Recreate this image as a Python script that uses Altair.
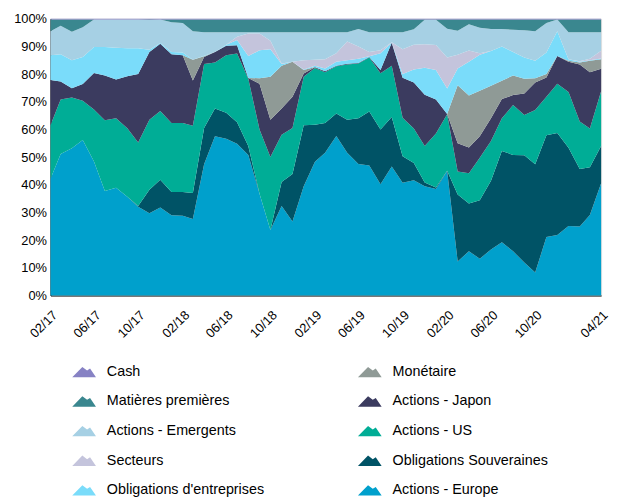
import altair as alt
import pandas as pd

# Monthly observation dates (02/2017 -> 04/2021)
months = pd.date_range("2017-02-01", "2021-04-01", freq="MS")

# Tick months shown on the x axis (year, month)
tick_months = [(2017, 2), (2017, 6), (2017, 10), (2018, 2), (2018, 6), (2018, 10),
               (2019, 2), (2019, 6), (2019, 10), (2020, 2), (2020, 6), (2020, 10),
               (2021, 4)]

# Allocation (%) per asset class
europe = [42.2, 51.1, 53.2, 56.2, 48.4, 37.8, 38.9, 35.7, 32.1, 29.7,
          31.8, 29.0, 28.8, 27.6, 47.4, 57.5, 56.6, 54.8, 50.8, 36.8,
          23.7, 32.3, 26.7, 39.5, 48.3, 51.6, 57.6, 51.6, 47.5, 47.0,
          40.2, 46.6, 40.7, 41.6, 39.5, 38.5, 45.0, 12.3, 16.0, 13.3,
          16.6, 19.2, 16.0, 11.9, 8.3, 21.1, 21.9, 25.1, 24.9, 29.1, 40.6]
souv = [0, 0, 0, 0, 0, 0, 0, 0, 0.2, 8.5,
        10.0, 8.4, 8.6, 9.4, 13.1, 10.1, 9.4, 7.8, 3.2, 0,
        0, 8.7, 17.2, 22.0, 13.4, 10.7, 8.2, 11.9, 16.5, 19.5,
        19.8, 17.9, 9.6, 6.3, 1.3, 0.5, 0.1, 24.2, 17.2, 21.1,
        24.9, 33.0, 34.8, 38.8, 39.1, 36.8, 36.8, 28.3, 20.8, 17.2, 13.4]
us = [19.3, 19.7, 18.3, 14.2, 18.8, 25.5, 25.1, 24.7, 23.0, 25.3,
      24.9, 24.9, 24.9, 24.3, 23.1, 16.6, 20.8, 24.8, 24.3, 23.2,
      26.3, 17.1, 16.6, 17.5, 20.5, 18.4, 17.0, 20.0, 19.8, 19.5,
      20.3, 18.5, 13.9, 12.4, 13.2, 19.5, 20.4, 8.3, 11.0, 15.4,
      14.3, 11.8, 18.0, 14.5, 19.6, 13.9, 17.8, 20.1, 17.2, 14.0, 19.8]
japon = [16.4, 6.5, 3.4, 6.0, 13.2, 16.2, 14.0, 18.8, 24.7, 24.5,
         24.3, 24.9, 24.5, 16.4, 2.6, 3.8, 3.4, 3.0, 0.3, 16.5,
         13.5, 9.5, 11.3, 1.2, 0.3, 0.3, 0.2, 0.2, 0.2, 0.2,
         1.2, 8.3, 14.5, 16.7, 18.5, 12.3, 0.1, 10.2, 9.3, 7.7,
         8.2, 7.0, 3.6, 7.8, 10.0, 7.0, 10.0, 11.0, 20.6, 20.4, 8.1]
monetaire = [0, 0, 0, 0, 0, 0, 0, 0, 0, 0,
             0, 0, 0, 7.5, 0.2, 0, 0, 0, 0, 2.0,
             15.5, 15.4, 12.7, 1.3, 0.1, 0, 0, 0, 0, 0,
             0, 0, 0, 0, 0, 0, 0, 21.0, 18.8, 16.5,
             11.8, 6.6, 7.1, 5.3, 1.5, 1.2, 0, 0.3, 0.7, 4.1, 3.5]
obl_ent = [8.9, 9.9, 10.1, 9.8, 9.4, 10.3, 11.5, 10.1, 9.3, 0.8,
           0.2, 0.8, 1.0, 0, 0.2, 0, 0.4, 1.9, 7.9, 10.1,
           10.0, 0.6, 0, 0.2, 0.4, 1.0, 1.5, 1.3, 1.5, 0.2,
           6.0, 0.1, 1.3, 4.7, 9.8, 10.7, 9.2, 6.0, 12.2, 13.0,
           12.5, 12.4, 8.5, 7.7, 6.3, 7.8, 9.0, 0.6, 0.3, 0.2, 0.2]
secteurs = [0, 0, 0, 0, 0, 0, 0, 0, 0, 0,
            0, 0, 0, 0, 0, 0, 0, 1.2, 8.2, 6.1,
            3.0, 0.2, 0, 3.3, 2.2, 3.4, 3.0, 6.8, 4.5, 1.6,
            1.1, 0.1, 9.0, 8.9, 8.5, 9.0, 11.2, 5.0, 4.0, 0.5,
            0, 0, 0, 0, 0, 0, 0, 0, 0.1, 0.5, 2.8]
emergents = [8.7, 10.3, 10.3, 10.7, 9.9, 9.9, 10.2, 10.4, 10.4, 10.7,
             8.5, 10.7, 10.7, 10.3, 8.5, 7.1, 4.5, 1.6, 0.4, 0.4,
             3.1, 11.3, 10.6, 10.1, 9.9, 9.7, 7.6, 3.3, 6.3, 7.1,
             6.5, 3.6, 6.1, 5.6, 8.8, 9.1, 10.4, 8.7, 9.5, 9.2,
             8.0, 6.3, 8.0, 9.8, 10.7, 10.7, 4.2, 9.7, 10.5, 9.6, 6.7]
matieres = [4.2, 2.2, 4.4, 2.8, 0, 0, 0, 0, 0, 0.2,
            0, 1.0, 1.2, 4.2, 4.6, 4.6, 4.6, 4.6, 4.6, 4.6,
            4.6, 4.6, 4.6, 4.6, 4.6, 4.6, 4.6, 4.6, 3.4, 4.6,
            4.6, 4.6, 4.6, 3.5, 0.1, 0.1, 3.3, 4.0, 1.7, 3.0,
            3.4, 3.4, 3.7, 3.9, 4.2, 1.2, 0, 4.6, 4.6, 4.6, 4.6]
cash = [0.3, 0.3, 0.3, 0.3, 0.3, 0.3, 0.3, 0.3, 0.3, 0.3,
        0.3, 0.3, 0.3, 0.3, 0.3, 0.3, 0.3, 0.3, 0.3, 0.3,
        0.3, 0.3, 0.3, 0.3, 0.3, 0.3, 0.3, 0.3, 0.3, 0.3,
        0.3, 0.3, 0.3, 0.3, 0.3, 0.3, 0.3, 0.3, 0.3, 0.3,
        0.3, 0.3, 0.3, 0.3, 0.3, 0.3, 0.3, 0.3, 0.3, 0.3, 0.3]

# Stacking order, bottom -> top
stack_series = [
    ("Actions - Europe", europe),
    ("Obligations Souveraines", souv),
    ("Actions - US", us),
    ("Actions - Japon", japon),
    ("Monétaire", monetaire),
    ("Obligations d'entreprises", obl_ent),
    ("Secteurs", secteurs),
    ("Actions - Emergents", emergents),
    ("Matières premières", matieres),
    ("Cash", cash),
]

colors = {
    "Cash": "#8782c4",
    "Matières premières": "#3a878f",
    "Actions - Emergents": "#a6d0e4",
    "Secteurs": "#c4c4dc",
    "Obligations d'entreprises": "#7adcfa",
    "Monétaire": "#8f9a96",
    "Actions - Japon": "#3b3b5f",
    "Actions - US": "#00ad96",
    "Obligations Souveraines": "#005366",
    "Actions - Europe": "#00a0cc",
}

# Legend: left column then right column (legend grid fills column by column)
legend_left = ["Cash", "Matières premières", "Actions - Emergents", "Secteurs",
               "Obligations d'entreprises"]
legend_right = ["Monétaire", "Actions - Japon", "Actions - US",
                "Obligations Souveraines", "Actions - Europe"]
legend_order = legend_left + legend_right

rows = []
for rank, (name, vals) in enumerate(stack_series):
    for d, v in zip(months, vals):
        rows.append({"date": d, "series": name, "value": v, "rank": rank})
df = pd.DataFrame(rows)

tick_dates = [alt.DateTime(year=y, month=m, date=1) for y, m in tick_months]

mountain = "M-1,0.45 L-0.15,-0.42 L0.25,-0.12 L0.5,-0.28 L1,0.45 Z"

FONT = "Liberation Sans"

chart = alt.Chart(df).mark_area(interpolate="linear", opacity=1).encode(
    x=alt.X(
        "date:T",
        scale=alt.Scale(domain=[alt.DateTime(year=2017, month=2, date=1),
                                alt.DateTime(year=2021, month=4, date=1)], nice=False),
        axis=alt.Axis(values=tick_dates, format="%m/%y", labelAngle=-45,
                      labelAlign="right", labelBaseline="top", ticks=False,
                      grid=False, title=None, domainColor="black", domainWidth=1,
                      labelFontSize=13, labelColor="black", labelPadding=13,
                      labelFont=FONT, labelOverlap=False),
    ),
    y=alt.Y(
        "value:Q", stack="normalize",
        scale=alt.Scale(domain=[0, 1], nice=False),
        axis=alt.Axis(values=[0, 0.1, 0.2, 0.3, 0.4, 0.5, 0.6, 0.7, 0.8, 0.9, 1.0],
                      format=".0%", ticks=False, grid=False, title=None,
                      domainColor="black", domainWidth=1, labelFontSize=13,
                      labelColor="black", labelPadding=4, labelFont=FONT),
    ),
    color=alt.Color(
        "series:N",
        scale=alt.Scale(domain=legend_order, range=[colors[n] for n in legend_order]),
        legend=alt.Legend(title=None, orient="none", legendX=22, legendY=345,
                          columns=2, columnPadding=94, rowPadding=11,
                          symbolType=mountain, symbolSize=576, symbolStrokeWidth=0,
                          symbolOpacity=1, labelFontSize=14.5, labelFont=FONT,
                          labelColor="black", labelOffset=11, labelLimit=400,
                          padding=0),
    ),
    order=alt.Order("rank:Q", sort="ascending"),
).properties(
    width=557, height=280,
    padding={"left": 5, "top": 2, "right": 0, "bottom": 0},
).configure_view(strokeWidth=0).configure(font=FONT)

chart.save("out.html", embed_options={"renderer": "svg", "actions": False})
